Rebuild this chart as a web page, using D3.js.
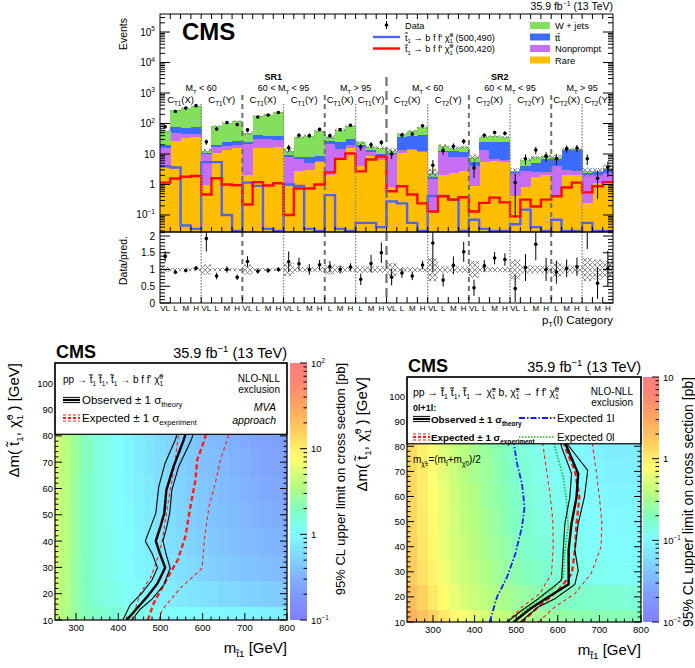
<!DOCTYPE html>
<html>
<head>
<meta charset="utf-8">
<script src="https://cdn.jsdelivr.net/npm/d3@7/dist/d3.min.js"></script>
<style>
body { margin: 0; background: #fff; }
text { font-family: "Liberation Sans", Arial, Helvetica, sans-serif; fill: #000; white-space: pre; }
</style>
</head>
<body>
<svg id="viz"></svg>
<script>
// ---- top figure: yields per signal-region bin ----
var binLabels = ["VL","L","M","H","VL","L","M","H","VL","L","M","H","VL","L","M","H","L","M","H","L","M","H",
                 "VL","L","M","H","VL","L","M","H","VL","L","M","H","VL","L","M","H","L","M","H","L","M","H"]
var rare      = [3.6,26,34,36, 1.0,11,14,16, 2.1,16,16,17, 0.88,2.7,3,5.3, 2.1,7.7,16, 4,8.5,6.6,
                 0.8,11,14,12, 0.13,2.1,2.4,2.7, 0.88,5.3,6,5.5, 0.41,0.8,1.7,2.0, 0.47,2.1,2.1, 0.25,1.15,1.15]
var nonprompt = [12.4,24,11,10, 9,6,4,4, 19.9,14,14,11, 7.1,4.3,2,0.7, 19.9,7.3,4, 13,3.5,1.4,
                 9.2,3,1,1, 1.37,9.9,5.6,5.3, 3.12,8.7,1,1, 1.89,1.9,0.9,0.5, 3.53,0.9,0.7, 1.85,0.95,1.15]
var ttbar     = [4,24,27,28, 1,3,6,6, 2,13,8,10, 1,1,3,2.5, 4,9,10, 3,2,2,
                 0.5,21,23,29, 0.3,1,5,4, 1.3,10,18,17.5, 0.2,1.3,2.4,4.5, 3,11,11.2, 0.3,0.4,1.0]
var wjets     = [36,196,258,296, 2,62,83,94, 26,130,158,192, 4,27,32,47.5, 11,39,52, 4,3,6,
                 2.5,12,18,32, 0.6,6,3,5, 2.4,13,13,13, 0.2,2.6,2.7,1.5, 0.7,0.5,0.5, 0.3,0.2,0.3]
var dataObs   = [78,248,320,385, 25,66,107,92, 62,164,190,230, 16,41,40,64, 40,63,88, 17,20,24,
                 10,42,45,84, 4.3,13,18,26, 3.5,41,51,48, 1.16,7,13.5,8.5, 7.1,15,15.7, 7,1.6,3.7]
var sig490    = [4,3.6,0.045,0.035, 5.4,5.4,0.1,0.03, 1.15,0.9,0.035,0.03, 1.0,0.9,0.035,0.03, 0.45,0.035,0.03, 0.055,0.055,0.04,
                 0.28,0.24,0.055,0.03, 0.42,0.42,0.32,0.03, 0.07,0.035,0.03,0.03, 0.05,0.15,0.04,0.03, 0.07,0.03,0.03, 0.055,0.03,0.03]
var sig420    = [1.15,1.57,1.8,1.9, 0.47,1.6,1.0,0.95, 0.22,1.2,0.93,1.1, 0.1,0.74,0.74,1.0, 2.5,7,10.4, 2.7,6.6,8.3,
                 0.6,0.88,0.47,0.24, 0.13,0.41,0.32,0.38, 0.13,0.25,0.37,0.26, 0.09,0.32,0.19,0.32, 0.41,0.8,1.15, 0.55,0.88,1.2]
var bkgUnc    = [0.08,0.05,0.05,0.05, 0.15,0.05,0.05,0.05, 0.15,0.05,0.05,0.05, 0.2,0.08,0.08,0.08, 0.15,0.1,0.08, 0.1,0.1,0.1,
                 0.2,0.08,0.08,0.08, 0.35,0.1,0.1,0.1, 0.25,0.08,0.08,0.08, 0.3,0.12,0.12,0.12, 0.22,0.12,0.12, 0.35,0.3,0.25]

var srGroups = [["SR1",0,22],["SR2",22,44]]
var mtGroups = [[0,8,"lo"],[8,16,"mid"],[16,22,"hi"],[22,30,"lo"],[30,38,"mid"],[38,44,"hi"]]
var ctGroups = [[0,4,"T1","X"],[4,8,"T1","Y"],[8,12,"T1","X"],[12,16,"T1","Y"],[16,19,"T1","X"],[19,22,"T1","Y"],
                [22,26,"T2","X"],[26,30,"T2","Y"],[30,34,"T2","X"],[34,38,"T2","Y"],[38,41,"T2","X"],[41,44,"T2","Y"]]
var dottedSeps = [4,12,19,26,34,41]
var dashedSeps = [8,16,30,38]
var srSep = 22

// ---- bottom figures: limit grids (pb) and contours (m_stop, dm) ----
var gridM  = [250,275,300,325,350,375,400,425,450,475,500,525,550,575,600,625,650,675,700,725,750,775,800]
var gridDm = [10,20,30,40,50,60,70,80]
var leftLimit = [
  [4.6,3.4,2.6,2.1,1.8,1.6,1.5,1.4,1.3,1.2,1.15,1.1,1.05,1.0,0.98,0.95,0.92,0.9,0.88,0.86,0.84,0.82,0.8],
  [5.2,3.6,2.5,1.9,1.6,1.4,1.25,1.1,1.0,0.92,0.85,0.8,0.74,0.7,0.66,0.62,0.58,0.55,0.52,0.5,0.48,0.46,0.45],
  [5.4,3.7,2.5,1.9,1.5,1.3,1.15,1.0,0.9,0.82,0.74,0.68,0.62,0.57,0.53,0.49,0.46,0.43,0.41,0.39,0.37,0.36,0.35],
  [5.5,3.8,2.6,1.9,1.5,1.3,1.1,0.98,0.88,0.78,0.7,0.63,0.57,0.52,0.48,0.44,0.41,0.38,0.36,0.34,0.32,0.31,0.3],
  [5.6,3.8,2.6,1.9,1.5,1.25,1.08,0.95,0.85,0.75,0.67,0.6,0.54,0.49,0.45,0.41,0.38,0.35,0.33,0.31,0.29,0.28,0.27],
  [5.6,3.9,2.6,1.9,1.5,1.25,1.06,0.93,0.82,0.72,0.64,0.57,0.51,0.46,0.42,0.39,0.36,0.33,0.31,0.29,0.27,0.26,0.25],
  [5.7,3.9,2.7,2.0,1.5,1.25,1.05,0.92,0.8,0.7,0.62,0.55,0.49,0.44,0.4,0.37,0.34,0.31,0.29,0.27,0.25,0.24,0.23],
  [5.8,4.0,2.7,2.0,1.5,1.25,1.05,0.9,0.78,0.68,0.6,0.53,0.47,0.42,0.38,0.35,0.32,0.29,0.27,0.25,0.24,0.23,0.22]]
var rightLimit = [
  [2.5,2.0,1.5,1.1,0.85,0.7,0.6,0.5,0.45,0.4,0.36,0.33,0.3,0.28,0.26,0.25,0.24,0.23,0.22,0.22,0.21,0.21,0.2],
  [2.0,1.5,1.1,0.8,0.62,0.52,0.45,0.4,0.35,0.31,0.28,0.25,0.23,0.21,0.2,0.19,0.18,0.17,0.17,0.16,0.16,0.15,0.15],
  [1.6,1.2,0.9,0.68,0.55,0.46,0.4,0.35,0.3,0.26,0.23,0.2,0.18,0.16,0.15,0.14,0.13,0.12,0.12,0.11,0.11,0.11,0.1],
  [1.5,1.1,0.85,0.65,0.52,0.44,0.38,0.33,0.28,0.24,0.21,0.18,0.16,0.15,0.14,0.13,0.12,0.11,0.11,0.1,0.1,0.1,0.1],
  [1.4,1.05,0.8,0.62,0.5,0.42,0.36,0.31,0.26,0.22,0.19,0.17,0.15,0.14,0.13,0.12,0.11,0.1,0.1,0.1,0.095,0.095,0.09],
  [1.4,1.0,0.78,0.6,0.48,0.4,0.34,0.29,0.25,0.21,0.18,0.16,0.14,0.13,0.12,0.11,0.1,0.1,0.095,0.09,0.09,0.09,0.085],
  [1.3,1.0,0.75,0.58,0.46,0.38,0.32,0.28,0.24,0.2,0.17,0.15,0.13,0.12,0.11,0.1,0.1,0.095,0.09,0.085,0.085,0.08,0.08],
  [1.3,0.95,0.72,0.56,0.45,0.37,0.31,0.27,0.23,0.19,0.16,0.14,0.13,0.12,0.11,0.1,0.095,0.09,0.085,0.08,0.08,0.08,0.075]]

var leftObs  = [[420,10],[444,14.4],[469,18.9],[493,23.9],[511,29.9],[500,34.7],[489,40],[500,45.5],[509,50.6],[514,59.4],[531,68.3],[555,78.4],[562,82]]
var leftObsM = [[411,10],[428,15.7],[456,20.2],[480,25.2],[493,29.9],[480,35.4],[464,40],[477,45.5],[489,50.6],[496,60.7],[511,69.6],[535,78.4],[542,82]]
var leftObsP = [[432,10],[452,14.1],[480,17.9],[508,23.3],[523,29.7],[514,34.7],[506,40],[515,45.5],[522,50.6],[527,59.4],[543,68.3],[573,78.4],[580,82]]
var leftExp  = [[470,10],[484,16.4],[523,27.8],[541,32.8],[559,41.7],[571,53.1],[583,63.2],[587,70.8],[604,78.4],[610,82]]
var leftExpM = [[432,10],[452,20.2],[478,26.5],[497,35.4],[504,40],[514,50.6],[522,58.2],[533,68.3],[541,78.4],[545,82]]
var leftExpP = [[496,10],[504,13.8],[547,22.1],[599,29.7],[604,40.4],[615,53.1],[630,61.9],[642,70.8],[658,78.4],[665,82]]

var rightObs  = [[494,10],[534,15.3],[577,20],[626,25],[626,38.6],[633,49.2],[645,59.8],[649,69.1],[621,80],[615,84]]
var rightObsM = [[478,10],[514,14.7],[553,19.3],[609,26.6],[613,38.6],[617,49.2],[629,59.8],[633,69.1],[609,79.7],[603,84]]
var rightObsP = [[510,10],[553,16],[593,19.3],[641,25],[649,30.6],[641,38.6],[649,49.2],[664,59.8],[672,70.4],[625,80.4],[618,84]]
var rightExp  = [[514,10],[553,16],[601,22.6],[634,29.3],[641,38.6],[645,49.2],[652,59.8],[641,70.4],[617,79.7],[612,84]]
var rightExpM = [[478,10],[514,16],[557,21.3],[585,29.3],[589,39.9],[588,50.5],[581,61.2],[573,70.4],[565,79.7],[563,84]]
var rightExpP = [[553,10],[593,16],[641,21.3],[680,29.3],[704,39.9],[706,49.2],[700,59.8],[692,70.4],[684,79.7],[682,84]]
var right1l   = [[436,10],[454,20],[478,27.9],[498,37.2],[514,47.9],[520,55.8],[514,65.1],[502,73.1],[493,82.4]]
var right0l   = [[494,10],[522,14.7],[561,20],[593,24],[613,28],[617,38.6],[625,47.9],[621,58.5],[613,67.8],[593,79.7],[590,84]]

var palStops = [[0,"#7f7fff"],[0.12,"#80a0ff"],[0.25,"#80d8ff"],[0.34,"#80ffff"],[0.43,"#80ffc0"],[0.52,"#b4ff80"],
                [0.63,"#ffff70"],[0.72,"#ffd460"],[0.82,"#ffaa60"],[0.93,"#ff8470"],[1,"#ff7f7f"]]

var svg = d3.select("#viz").attr("width", 695).attr("height", 668)
var defs = svg.append("defs")

var hatch = defs.append("pattern").attr("id", "hatch").attr("patternUnits", "userSpaceOnUse")
  .attr("width", 5).attr("height", 5)
hatch.append("path").attr("d", "M0,0L5,5M5,0L0,5").attr("stroke", "#707070").attr("stroke-width", 0.8).attr("fill", "none")

//text with sub/superscripts, parts are strings or [text, kind]
function rich(parent, parts, size) {
  var t = parent.append("text").attr("font-size", size)
  var cur = 0
  var sub = 0.28 * size, sup = -0.42 * size, small = 0.66 * size
  parts.forEach(function(p) {
    if (typeof p === "string") p = [p, ""]
    var s = p[0], kind = p[1]
    if (kind === "ss") {
      var pr = s.split("|")
      t.append("tspan").attr("dy", sup - cur).attr("font-size", small).text(pr[0])
      t.append("tspan").attr("dx", -0.57 * small * pr[0].length).attr("dy", sub - sup).attr("font-size", small).text(pr[1])
      cur = sub
      return
    }
    var target = kind === "sub" ? sub : (kind === "sup" ? sup : 0)
    var ts = t.append("tspan").attr("dy", target - cur).text(s)
    if (kind) ts.attr("font-size", small)
    cur = target
  })
  return t
}

function powLabel(n) {
  if (n === 0) return ["1"]
  if (n === 1) return ["10"]
  return ["10", [(n < 0 ? "\u2212" + (-n) : String(n)), "sup"]]
}

var stop = "t\u0303", chi = "\u03c7\u0303"

// ================= top plot =================
var TX0 = 160, TX1 = 613, TY0 = 14, TY1 = 232, RY1 = 303
var nb = binLabels.length
var x = d3.scaleLinear().domain([0, nb]).range([TX0, TX1])
var ymin = 0.0277
var y = d3.scaleLog().domain([ymin, 3.9e5]).range([TY1, TY0])
var yr = d3.scaleLinear().domain([0, 2.12]).range([RY1, TY1])

var topG = svg.append("g")
defs.append("clipPath").attr("id", "clipMain").append("rect")
  .attr("x", TX0).attr("y", TY0).attr("width", TX1 - TX0).attr("height", TY1 - TY0)
defs.append("clipPath").attr("id", "clipRatio").append("rect")
  .attr("x", TX0).attr("y", TY1).attr("width", TX1 - TX0).attr("height", RY1 - TY1)

var table = binLabels.map(function(l, i) {
  return {bin: i, rare: rare[i], nonprompt: nonprompt[i], ttbar: ttbar[i], wjets: wjets[i]}
})
var keys = ["rare", "nonprompt", "ttbar", "wjets"]
var colors = {rare: "#ffbe00", nonprompt: "#c86ef5", ttbar: "#3c6cff", wjets: "#84e05c"}
var stacked = d3.stack().keys(keys)(table)
var total = table.map(function(d) { return d.rare + d.nonprompt + d.ttbar + d.wjets })

var mainG = topG.append("g").attr("clip-path", "url(#clipMain)")
stacked.forEach(function(layer) {
  mainG.append("g").selectAll("rect").data(layer).enter().append("rect")
    .attr("x", function(d, i) { return x(i) })
    .attr("width", function(d, i) { return x(i + 1) - x(i) + 0.4 })
    .attr("y", function(d) { return y(d[1]) })
    .attr("height", function(d) { return y(Math.max(d[0], ymin)) - y(d[1]) })
    .attr("fill", colors[layer.key])
    .attr("shape-rendering", "crispEdges")
})

// background uncertainty
mainG.selectAll("rect.unc").data(total).enter().append("rect").attr("class", "unc")
  .attr("x", function(d, i) { return x(i) })
  .attr("width", function(d, i) { return x(i + 1) - x(i) })
  .attr("y", function(d, i) { return y(d * (1 + bkgUnc[i])) })
  .attr("height", function(d, i) { return y(d * (1 - bkgUnc[i])) - y(d * (1 + bkgUnc[i])) })
  .attr("fill", "url(#hatch)")

function sepLines(g, y0, y1, main) {
  g.append("line").attr("x1", x(srSep)).attr("x2", x(srSep)).attr("y1", main ? 77 : y0).attr("y2", y1)
    .attr("stroke", "#707070").attr("stroke-width", 2.2).attr("stroke-dasharray", "9,5")
  dashedSeps.forEach(function(b) {
    g.append("line").attr("x1", x(b)).attr("x2", x(b)).attr("y1", main ? 95 : y0).attr("y2", y1)
      .attr("stroke", "#707070").attr("stroke-width", 2).attr("stroke-dasharray", "5,4")
  })
  dottedSeps.forEach(function(b) {
    g.append("line").attr("x1", x(b)).attr("x2", x(b)).attr("y1", main ? 104 : y0).attr("y2", y1)
      .attr("stroke", "#8a8a8a").attr("stroke-width", 1.4).attr("stroke-dasharray", "1.5,1.5")
  })
}
sepLines(topG, TY0, TY1, true)

function stepPath(vals) {
  var p = ""
  vals.forEach(function(v, i) {
    var yy = y(Math.max(v, ymin))
    p += (i === 0 ? "M" + x(0) + "," + yy : "V" + yy) + "H" + x(i + 1)
  })
  return p
}
mainG.append("path").attr("d", stepPath(sig490)).attr("fill", "none").attr("stroke", "#4f63f7").attr("stroke-width", 2.4)
mainG.append("path").attr("d", stepPath(sig420)).attr("fill", "none").attr("stroke", "#ff0a0a").attr("stroke-width", 2.4)

// data points (Poisson errors)
dataObs.forEach(function(n, i) {
  var cx = (x(i) + x(i + 1)) / 2, e = Math.sqrt(n)
  mainG.append("line").attr("x1", cx).attr("x2", cx).attr("y1", y(n + e)).attr("y2", y(Math.max(n - e, ymin)))
    .attr("stroke", "#000").attr("stroke-width", 1)
  mainG.append("circle").attr("cx", cx).attr("cy", y(n)).attr("r", 1.8).attr("fill", "#000")
})

// ratio panel
var ratioG = topG.append("g").attr("clip-path", "url(#clipRatio)")
ratioG.selectAll("rect").data(bkgUnc).enter().append("rect")
  .attr("x", function(d, i) { return x(i) })
  .attr("width", function(d, i) { return x(i + 1) - x(i) })
  .attr("y", function(d) { return yr(1 + d) })
  .attr("height", function(d) { return yr(1 - d) - yr(1 + d) })
  .attr("fill", "url(#hatch)")
sepLines(ratioG, TY1, RY1, false)
dataObs.forEach(function(n, i) {
  var cx = (x(i) + x(i + 1)) / 2, r = n / total[i], e = Math.sqrt(n) / total[i]
  ratioG.append("line").attr("x1", cx).attr("x2", cx).attr("y1", yr(r + e)).attr("y2", yr(Math.max(r - e, 0)))
    .attr("stroke", "#000").attr("stroke-width", 1)
  if (r < 2.12) ratioG.append("circle").attr("cx", cx).attr("cy", yr(r)).attr("r", 1.8).attr("fill", "#000")
})

// frames and ticks
topG.append("rect").attr("x", TX0).attr("y", TY0).attr("width", TX1 - TX0).attr("height", TY1 - TY0)
  .attr("fill", "none").attr("stroke", "#000").attr("stroke-width", 1)
topG.append("rect").attr("x", TX0).attr("y", TY1).attr("width", TX1 - TX0).attr("height", RY1 - TY1)
  .attr("fill", "none").attr("stroke", "#000").attr("stroke-width", 1)

var tk = topG.append("g").attr("stroke", "#000").attr("stroke-width", 1)
for (var i = 1; i < nb; i++) {
  tk.append("line").attr("x1", x(i)).attr("x2", x(i)).attr("y1", TY0).attr("y2", TY0 + 5)
  tk.append("line").attr("x1", x(i)).attr("x2", x(i)).attr("y1", TY1 - 5).attr("y2", TY1)
  tk.append("line").attr("x1", x(i)).attr("x2", x(i)).attr("y1", RY1 - 6).attr("y2", RY1)
}
for (var d = -2; d <= 5; d++) {
  for (var k = 1; k <= 9; k++) {
    var v = k * Math.pow(10, d)
    if (v < ymin || v > 3.9e5) continue
    var len = k === 1 ? 10 : 5
    tk.append("line").attr("x1", TX0).attr("x2", TX0 + len).attr("y1", y(v)).attr("y2", y(v))
    tk.append("line").attr("x1", TX1 - len).attr("x2", TX1).attr("y1", y(v)).attr("y2", y(v))
  }
}
for (var q = 0; q <= 21; q++) {
  var rv = q / 10, ln = q % 5 === 0 ? 10 : 5
  tk.append("line").attr("x1", TX0).attr("x2", TX0 + ln).attr("y1", yr(rv)).attr("y2", yr(rv))
  tk.append("line").attr("x1", TX1 - ln).attr("x2", TX1).attr("y1", yr(rv)).attr("y2", yr(rv))
}

// tick labels
for (var n = -1; n <= 5; n++) {
  rich(topG, powLabel(n), 10).attr("x", 155).attr("y", y(Math.pow(10, n)) + 3.5).attr("text-anchor", "end")
}
[0, 0.5, 1, 1.5, 2].forEach(function(v) {
  topG.append("text").attr("x", 155).attr("y", yr(v) + 3.5).attr("text-anchor", "end").attr("font-size", 10).text(String(v))
})
binLabels.forEach(function(l, i) {
  topG.append("text").attr("x", (x(i) + x(i + 1)) / 2).attr("y", 311).attr("text-anchor", "middle")
    .attr("font-size", 8).text(l)
})
rich(topG, ["p", ["T", "sub"], "(l) Category"], 11.5).attr("x", 613).attr("y", 324).attr("text-anchor", "end")
topG.append("text").attr("transform", "translate(127,18) rotate(-90)").attr("text-anchor", "end")
  .attr("font-size", 10.5).text("Events")
topG.append("text").attr("transform", "translate(127,236) rotate(-90)").attr("text-anchor", "end")
  .attr("font-size", 10.5).text("Data/pred.")

// category labels
srGroups.forEach(function(s) {
  topG.append("text").attr("x", (x(s[1]) + x(s[2])) / 2).attr("y", 80).attr("text-anchor", "middle")
    .attr("font-size", 9).attr("font-weight", "bold").text(s[0])
})
mtGroups.forEach(function(m) {
  var parts = m[2] === "lo" ? ["M", ["T", "sub"], " < 60"] : m[2] === "mid" ? ["60 < M", ["T", "sub"], " < 95"] : ["M", ["T", "sub"], " > 95"]
  rich(topG, parts, 9).attr("x", (x(m[0]) + x(m[1])) / 2).attr("y", 91).attr("text-anchor", "middle")
})
ctGroups.forEach(function(c) {
  rich(topG, ["C", [c[2], "sub"], "(" + c[3] + ")"], 9.5).attr("x", (x(c[0]) + x(c[1])) / 2).attr("y", 103).attr("text-anchor", "middle")
})

// top legends
topG.append("text").attr("x", 182).attr("y", 40).attr("font-size", 24).attr("font-weight", "bold").text("CMS")
rich(topG, ["35.9 fb", ["\u22121", "sup"], " (13 TeV)"], 10.5).attr("x", 613).attr("y", 10).attr("text-anchor", "end")
topG.append("line").attr("x1", 386.5).attr("x2", 386.5).attr("y1", 21).attr("y2", 29).attr("stroke", "#000")
topG.append("circle").attr("cx", 386.5).attr("cy", 25).attr("r", 1.8).attr("fill", "#000")
topG.append("text").attr("x", 405).attr("y", 28.5).attr("font-size", 9.2).text("Data")
topG.append("line").attr("x1", 373).attr("x2", 400).attr("y1", 37).attr("y2", 37).attr("stroke", "#4f63f7").attr("stroke-width", 2.4)
topG.append("line").attr("x1", 373).attr("x2", 400).attr("y1", 48.5).attr("y2", 48.5).attr("stroke", "#ff0a0a").attr("stroke-width", 2.4)
rich(topG, [stop, ["1", "sub"], " \u2192 b f f' " + chi, ["0|1", "ss"], " (500,490)"], 9.2).attr("x", 405).attr("y", 40.5)
rich(topG, [stop, ["1", "sub"], " \u2192 b f f' " + chi, ["0|1", "ss"], " (500,420)"], 9.2).attr("x", 405).attr("y", 52)
var legRows = [["W + jets", "wjets"], ["t" + "t\u0304", "ttbar"], ["Nonprompt", "nonprompt"], ["Rare", "rare"]]
legRows.forEach(function(r, i) {
  topG.append("rect").attr("x", 530).attr("y", 22 + i * 11.5).attr("width", 20).attr("height", 7).attr("fill", colors[r[1]])
  topG.append("text").attr("x", 555).attr("y", 29 + i * 11.5).attr("font-size", 9.3).text(r[0])
})

// ================= limit plots =================
var palette = d3.scaleLinear().domain(palStops.map(function(d) { return d[0] }))
  .range(palStops.map(function(d) { return d[1] })).clamp(true)
var grad = defs.append("linearGradient").attr("id", "pal").attr("x1", 0).attr("y1", 1).attr("x2", 0).attr("y2", 0)
palStops.forEach(function(s) { grad.append("stop").attr("offset", s[0]).attr("stop-color", s[1]) })

function drawLimit(c) {
  var g = svg.append("g")
  var xs = d3.scaleLinear().domain(c.xdom).range([c.x0, c.x1])
  var ys = d3.scaleLinear().domain(c.ydom).range([c.y1, c.y0])
  var zs = d3.scaleLog().domain(c.zdom).range([0, 1]).clamp(true)
  defs.append("clipPath").attr("id", "clip" + c.id).append("rect")
    .attr("x", c.x0).attr("y", c.y0).attr("width", c.x1 - c.x0).attr("height", c.y1 - c.y0)
  var inner = g.append("g").attr("clip-path", "url(#clip" + c.id + ")")
  var cells = []
  c.grid.forEach(function(row, r) {
    row.forEach(function(v, k) { cells.push({m: gridM[k], dm: gridDm[r], v: v}) })
  })
  inner.selectAll("rect").data(cells).enter().append("rect")
    .attr("x", function(d) { return xs(d.m - 12.5) })
    .attr("width", function(d) { return xs(d.m + 12.5) - xs(d.m - 12.5) + 0.4 })
    .attr("y", function(d) { return ys(d.dm + 5) })
    .attr("height", function(d) { return ys(d.dm - 5) - ys(d.dm + 5) + 0.4 })
    .attr("fill", function(d) { return palette(zs(d.v)) })
    .attr("shape-rendering", "crispEdges")
  var line = d3.line().x(function(d) { return xs(d[0]) }).y(function(d) { return ys(d[1]) })
  c.curves.forEach(function(cv) {
    inner.append("path").attr("d", line(cv.pts)).attr("fill", "none").attr("stroke", cv.color)
      .attr("stroke-width", cv.w).attr("stroke-dasharray", cv.dash || null)
  })
  var tg = g.append("g").attr("stroke", "#000").attr("stroke-width", 1)
  for (var m = 260; m <= 800; m += 20) {
    if (m < c.xdom[0]) continue
    var l = m % 100 === 0 ? 7 : 3.5
    tg.append("line").attr("x1", xs(m)).attr("x2", xs(m)).attr("y1", c.y1).attr("y2", c.y1 - l)
  }
  for (var dm = 10; dm <= 106; dm += 2) {
    var l2 = dm % 10 === 0 ? 7 : 3.5
    tg.append("line").attr("x1", c.x0).attr("x2", c.x0 + l2).attr("y1", ys(dm)).attr("y2", ys(dm))
    tg.append("line").attr("x1", c.x1).attr("x2", c.x1 - l2).attr("y1", ys(dm)).attr("y2", ys(dm))
  }
  // legend box
  g.append("rect").attr("x", c.x0).attr("y", c.y0).attr("width", c.x1 - c.x0).attr("height", ys(c.boxDm) - c.y0)
    .attr("fill", "#fff").attr("stroke", "#000").attr("stroke-width", 1.2)
  g.append("rect").attr("x", c.x0).attr("y", c.y0).attr("width", c.x1 - c.x0).attr("height", c.y1 - c.y0)
    .attr("fill", "none").attr("stroke", "#000").attr("stroke-width", 1.2)
  for (var mm = 300; mm <= 800; mm += 100) {
    g.append("text").attr("x", xs(mm)).attr("y", c.y1 + 11).attr("text-anchor", "middle").attr("font-size", 9.5).text(mm)
  }
  for (var dd = 10; dd <= 100; dd += 10) {
    g.append("text").attr("x", c.x0 - 2).attr("y", ys(dd) + 3.5).attr("text-anchor", "end").attr("font-size", 9.5).text(dd)
  }
  rich(g, ["m", [stop + "1", "sub"], " [GeV]"], 15).attr("x", c.x1).attr("y", c.y1 + 33).attr("text-anchor", "end")
  rich(g, ["\u0394m( " + stop, ["1", "sub"], ", " + chi, ["0|1", "ss"], " ) [GeV]"], 15)
    .attr("transform", "translate(" + c.ylabX + "," + c.y0 + ") rotate(-90)").attr("text-anchor", "end")
  g.append("text").attr("x", c.x0 + 1).attr("y", c.y0 - 5).attr("font-size", 18).attr("font-weight", "bold").text("CMS")
  rich(g, ["35.9 fb", ["\u22121", "sup"], " (13 TeV)"], 14.5).attr("x", c.x1).attr("y", c.y0 - 5).attr("text-anchor", "end")
  // colour bar
  var cy = d3.scaleLog().domain(c.zdom).range([c.y1, c.y0])
  g.append("rect").attr("x", c.cb0).attr("y", c.y0).attr("width", c.cb1 - c.cb0).attr("height", c.y1 - c.y0).attr("fill", "url(#pal)")
  var lo = Math.round(Math.log10(c.zdom[0])), hi = Math.round(Math.log10(c.zdom[1]))
  for (var e = lo; e <= hi; e++) {
    for (var kk = 1; kk <= 9; kk++) {
      var zv = kk * Math.pow(10, e)
      if (zv > c.zdom[1] * 1.001) continue
      g.append("line").attr("x1", c.cb1).attr("x2", c.cb1 - (kk === 1 ? 7 : 3.5)).attr("y1", cy(zv)).attr("y2", cy(zv))
        .attr("stroke", "#000").attr("stroke-width", 1)
    }
    rich(g, powLabel(e), 9.5).attr("x", c.cb1 + 4).attr("y", cy(Math.pow(10, e)) + 3.5)
  }
  g.append("text").attr("transform", "translate(" + c.zlabX + "," + c.y0 + ") rotate(-90)").attr("text-anchor", "end")
    .attr("font-size", c.zlabSize).text("95% CL upper limit on cross section [pb]")
  return {g: g, xs: xs, ys: ys}
}

function tripleLine(g, x0, x1, yc, color, dashed, gap) {
  [-gap, 0, gap].forEach(function(o) {
    g.append("line").attr("x1", x0).attr("x2", x1).attr("y1", yc + o).attr("y2", yc + o)
      .attr("stroke", color).attr("stroke-width", o === 0 ? 2.2 : 1)
      .attr("stroke-dasharray", dashed ? "3,2" : null)
  })
}

var obsStyle = function(p, thick) { return {pts: p, color: "#000", w: thick ? 2.4 : 1.1} }
var expStyle = function(p, thick) { return {pts: p, color: "#ff1a1a", w: thick ? 2.4 : 1.1, dash: thick ? "5,3" : "3.5,3"} }

var L = drawLimit({id: "L", x0: 55, x1: 287, y0: 363, y1: 620, xdom: [250, 800], ydom: [10, 107.7], zdom: [0.1, 100],
  grid: leftLimit, boxDm: 80.6, cb0: 290, cb1: 307, ylabX: 19, zlabX: 345, zlabSize: 13,
  curves: [expStyle(leftExpM), expStyle(leftExpP), expStyle(leftExp, true),
           obsStyle(leftObsM), obsStyle(leftObsP), obsStyle(leftObs, true)]})
rich(L.g, ["pp \u2192 " + stop, ["1", "sub"], " " + stop, ["1", "sub"], ", " + stop, ["1", "sub"], " \u2192 b f f' " + chi, ["0|1", "ss"]], 10)
  .attr("x", 63).attr("y", 383)
L.g.append("text").attr("x", 280).attr("y", 381.5).attr("text-anchor", "end").attr("font-size", 10).text("NLO-NLL")
L.g.append("text").attr("x", 280).attr("y", 393).attr("text-anchor", "end").attr("font-size", 10).text("exclusion")
tripleLine(L.g, 63, 80, 400, "#000", false, 2.6)
rich(L.g, ["Observed \u00b1 1 \u03c3", ["theory", "sub"]], 11.5).attr("x", 82).attr("y", 404)
tripleLine(L.g, 63, 80, 418, "#ff1a1a", true, 3)
rich(L.g, ["Expected \u00b1 1 \u03c3", ["experiment", "sub"]], 11.5).attr("x", 82).attr("y", 422)
L.g.append("text").attr("x", 276).attr("y", 411).attr("text-anchor", "end").attr("font-size", 10.5).attr("font-style", "italic").text("MVA")
L.g.append("text").attr("x", 276).attr("y", 424).attr("text-anchor", "end").attr("font-size", 10.5).attr("font-style", "italic").text("approach")

var R = drawLimit({id: "R", x0: 407, x1: 641, y0: 377, y1: 622, xdom: [237.5, 800], ydom: [10, 107.6], zdom: [0.01, 10],
  grid: rightLimit, boxDm: 81, cb0: 643, cb1: 659, ylabX: 367, zlabX: 693, zlabSize: 14,
  curves: [{pts: right1l, color: "#1a1aff", w: 1.8, dash: "6,2,1.5,2"}, {pts: right0l, color: "#22b222", w: 1.6, dash: "1.5,1.5"},
           expStyle(rightExpM), expStyle(rightExpP), expStyle(rightExp, true),
           obsStyle(rightObsM), obsStyle(rightObsP), obsStyle(rightObs, true)]})
rich(R.g, ["pp \u2192 " + stop, ["1", "sub"], " " + stop, ["1", "sub"], ", " + stop, ["1", "sub"], " \u2192 " + chi, ["\u00b1|1", "ss"],
  " b, " + chi, ["\u00b1|1", "ss"], " \u2192 f f' " + chi, ["0|1", "ss"]], 10.5).attr("x", 413).attr("y", 396)
R.g.append("text").attr("x", 633).attr("y", 394.5).attr("text-anchor", "end").attr("font-size", 10).text("NLO-NLL")
R.g.append("text").attr("x", 633).attr("y", 406).attr("text-anchor", "end").attr("font-size", 10).text("exclusion")
R.g.append("text").attr("x", 413).attr("y", 411).attr("font-size", 9).attr("font-weight", "bold").text("0l+1l:")
tripleLine(R.g, 413, 430, 419, "#000", false, 2.6)
rich(R.g, ["Observed \u00b1 1 \u03c3", ["theory", "sub"]], 9.8).attr("x", 431).attr("y", 423).attr("font-weight", "bold")
tripleLine(R.g, 413, 430, 437, "#ff1a1a", true, 3)
rich(R.g, ["Expected \u00b1 1 \u03c3", ["experiment", "sub"]], 9.8).attr("x", 431).attr("y", 441).attr("font-weight", "bold")
R.g.append("line").attr("x1", 519).attr("x2", 555).attr("y1", 418).attr("y2", 418).attr("stroke", "#1a1aff").attr("stroke-width", 1.8).attr("stroke-dasharray", "6,2,1.5,2")
R.g.append("text").attr("x", 557).attr("y", 422).attr("font-size", 11).text("Expected 1l")
R.g.append("line").attr("x1", 519).attr("x2", 555).attr("y1", 437).attr("y2", 437).attr("stroke", "#22b222").attr("stroke-width", 1.6).attr("stroke-dasharray", "1.5,1.5")
R.g.append("text").attr("x", 557).attr("y", 441).attr("font-size", 11).text("Expected 0l")
rich(R.g, ["m", [chi + "\u00b1", "sub"], "=(m", [stop, "sub"], "+m", [chi + "0", "sub"], ")/2"], 10).attr("x", 413).attr("y", 463)
</script>
</body>
</html>
